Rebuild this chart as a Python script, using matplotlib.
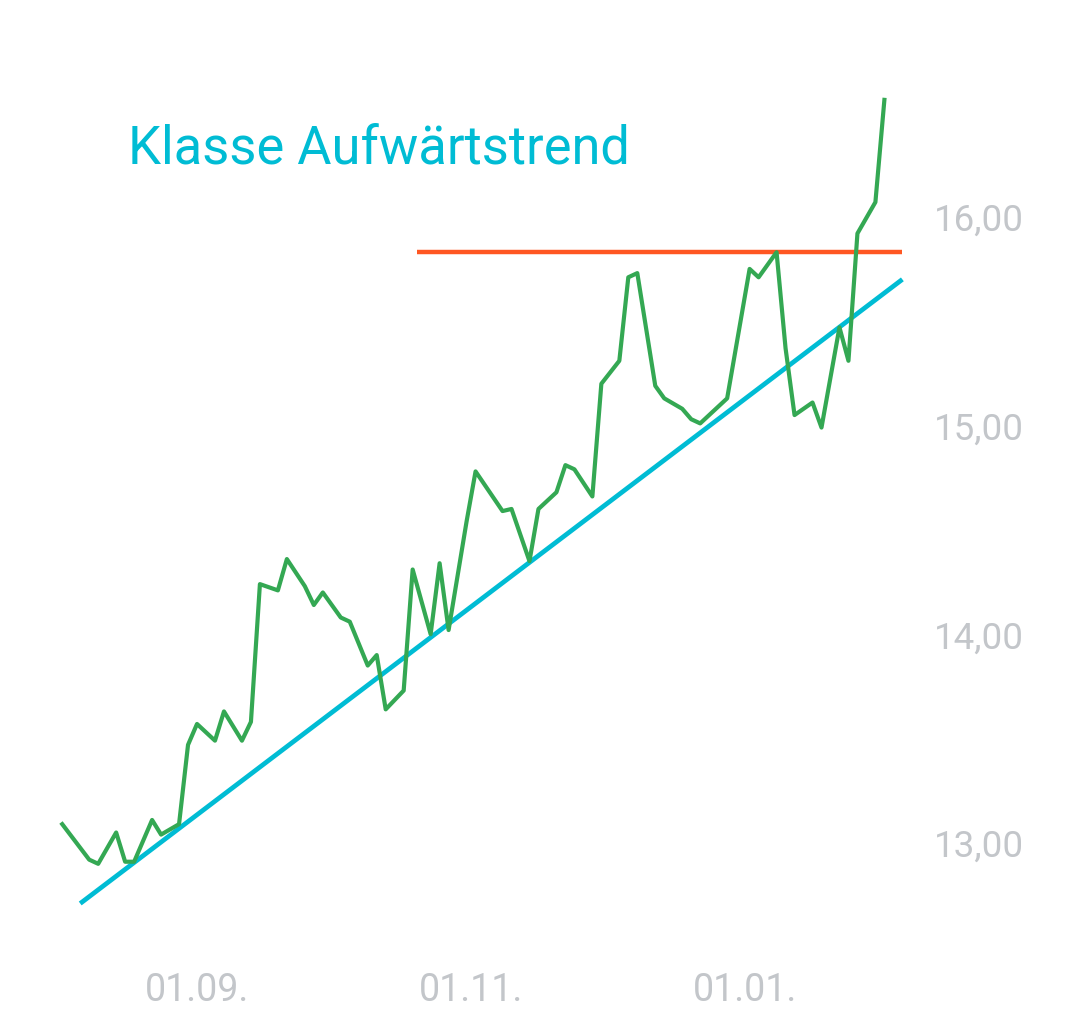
import pandas as pd
import matplotlib
matplotlib.use("Agg")
import matplotlib.pyplot as plt

# Kursverlauf (Schlusskurse)
dates = [
    "2019-08-02", "2019-08-08", "2019-08-10", "2019-08-14", "2019-08-16", "2019-08-18",
    "2019-08-22", "2019-08-24", "2019-08-28", "2019-08-30", "2019-09-01", "2019-09-05",
    "2019-09-07", "2019-09-11", "2019-09-13", "2019-09-15", "2019-09-19", "2019-09-21",
    "2019-09-25", "2019-09-27", "2019-09-29", "2019-10-03", "2019-10-05", "2019-10-09",
    "2019-10-11", "2019-10-13", "2019-10-17", "2019-10-19", "2019-10-23", "2019-10-25",
    "2019-10-27", "2019-10-31", "2019-11-02", "2019-11-08", "2019-11-10", "2019-11-14",
    "2019-11-16", "2019-11-20", "2019-11-22", "2019-11-24", "2019-11-28", "2019-11-30",
    "2019-12-04", "2019-12-06", "2019-12-08", "2019-12-12", "2019-12-14", "2019-12-18",
    "2019-12-20", "2019-12-22", "2019-12-28", "2020-01-02", "2020-01-04", "2020-01-08",
    "2020-01-10", "2020-01-12", "2020-01-16", "2020-01-18", "2020-01-22", "2020-01-24",
    "2020-01-26", "2020-01-30", "2020-02-01",
]
prices = [
    13.11, 12.94, 12.92, 13.07, 12.93, 12.93,
    13.13, 13.06, 13.11, 13.49, 13.59, 13.51,
    13.65, 13.51, 13.60, 14.26, 14.23, 14.38,
    14.25, 14.16, 14.22, 14.10, 14.08, 13.87,
    13.92, 13.66, 13.75, 14.33, 14.02, 14.36,
    14.04, 14.56, 14.80, 14.61, 14.62, 14.37,
    14.62, 14.70, 14.83, 14.81, 14.68, 15.22,
    15.33, 15.73, 15.75, 15.21, 15.15, 15.10,
    15.05, 15.03, 15.15, 15.77, 15.73, 15.85,
    15.39, 15.07, 15.13, 15.01, 15.49, 15.33,
    15.94, 16.09, 16.58,
]

# Trendlinie (Aufwärtstrend) und Widerstand
trend_dates = ["2019-08-06", "2020-02-05"]
trend_values = [12.73, 15.72]
resistance_dates = ["2019-10-20", "2020-02-05"]
resistance_values = [15.85, 15.85]

tick_dates = ["2019-09-01", "2019-11-01", "2020-01-01"]
tick_labels = ["01.09.", "01.11.", "01.01."]
y_ticks = [13, 14, 15, 16]
y_labels = ["13,00", "14,00", "15,00", "16,00"]

GREEN = "#34a853"
CYAN = "#00bcd4"
RED = "#ff5722"
GRAY = "#c3c6ca"


def main():
    plt.rcParams['font.family'] = ['Roboto', 'DejaVu Sans']

    fig = plt.figure(figsize=(10.8, 10.35), dpi=100)
    # Achsenbereich in Pixeln: x 40..910, y 60..940
    ax = fig.add_axes([40 / 1080, (1035 - 940) / 1035, 870 / 1080, 880 / 1035])

    ax.plot(pd.to_datetime(trend_dates), trend_values, color=CYAN, lw=3.4,
            solid_capstyle="butt", zorder=2)
    ax.plot(pd.to_datetime(resistance_dates), resistance_values, color=RED, lw=3.2,
            solid_capstyle="butt", zorder=2)
    ax.plot(pd.to_datetime(dates), prices, color=GREEN, lw=3.0, zorder=3)

    base = pd.Timestamp("2019-09-01")
    ax.set_xlim(base - pd.Timedelta(days=34.95), base + pd.Timedelta(days=158.7))
    ax.set_ylim(12.555, 16.771)

    ax.set_xticks(pd.to_datetime(tick_dates))
    ax.set_xticklabels(tick_labels)
    ax.set_yticks(y_ticks)
    ax.set_yticklabels(y_labels)
    ax.yaxis.tick_right()
    ax.tick_params(axis="x", length=0, pad=23, labelsize=27, labelcolor=GRAY)
    ax.tick_params(axis="y", length=0, pad=17, labelsize=26.5, labelcolor=GRAY)
    for lab in ax.get_yticklabels():
        lab.set_verticalalignment("center")

    for spine in ax.spines.values():
        spine.set_visible(False)

    fig.text(128 / 1080, 1 - 164 / 1035, "Klasse Aufwärtstrend", color=CYAN,
             fontsize=37.8, ha="left", va="baseline")

    plt.savefig("out.png", dpi=100)
    plt.close()


if __name__ == '__main__':
    main()
